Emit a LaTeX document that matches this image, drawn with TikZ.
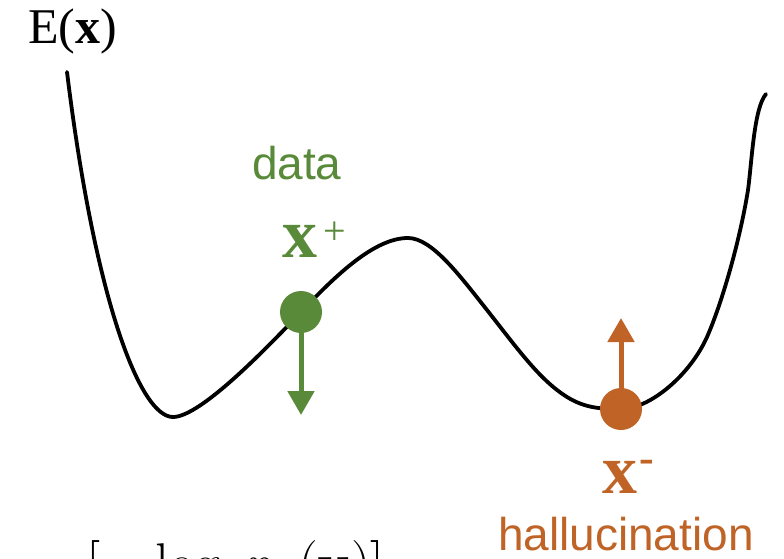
\documentclass[tikz,border=0pt]{standalone}
\usepackage{fontspec}
\setmainfont{Liberation Serif}
\newfontfamily\sansf{Liberation Sans}
\newfontfamily\lmr{Latin Modern Roman}
\usetikzlibrary{arrows.meta}
\definecolor{datagreen}{RGB}{88,138,58}
\definecolor{hallorange}{RGB}{192,99,38}
\tikzset{
  lbl/.style={inner sep=0pt, outer sep=0pt},
  losstext/.style={lbl, anchor=base west, font=\lmr\fontsize{56}{66}\selectfont},
  dotnode/.style={circle, inner sep=0pt, minimum size=42pt},
  forcearrow/.style={line width=5pt, -{Triangle[length=24pt,width=26pt]}},
}
\begin{document}
\begin{tikzpicture}[x=1pt,y=-1pt]
\useasboundingbox (0,0) rectangle (784,559);
\clip (0,0) rectangle (784,559);
\fill[white] (0,0) rectangle (784,559);
% energy curve
\draw[line width=3.8pt, line cap=round]
  (67,72) .. controls (95,300) and (140,417) .. (173,417)
  .. controls (200,417) and (265,350) .. (301,312)
  .. controls (337,274) and (375,238) .. (408,238)
  .. controls (432,238) and (460,276) .. (487,310)
  .. controls (520,352) and (540,380) .. (567,397)
  .. controls (585,408) and (600,409) .. (621,409)
  .. controls (650,409) and (690,375) .. (707,337)
  .. controls (722,303) and (740,240) .. (748,190)
  .. controls (752,160) and (754,108) .. (766,94);
% points
\node[dotnode, fill=datagreen] (xp) at (301,312) {};
\node[dotnode, fill=hallorange] (xm) at (621,409) {};
\coordinate (xptip) at (301,415);
\coordinate (xmtip) at (621,318);
\draw[forcearrow, datagreen] (xp.center) -- (xptip);
\draw[forcearrow, hallorange] (xm.center) -- (xmtip);
% labels
\node[lbl, anchor=base west, font=\fontsize{50}{60}\selectfont] (E) at (28,44) {E(\textbf{x})};
\node[lbl, anchor=base west, text=datagreen, font=\sansf\fontsize{46}{55}\selectfont] (data) at (252,179) {data};
\node[lbl, anchor=base west, text=datagreen, font=\fontsize{70}{80}\selectfont\bfseries] (xplus) at (282,257) {x};
\node[lbl, text=datagreen, font=\fontsize{40}{48}\selectfont] (plus) at (335,233) {+};
\node[lbl, anchor=base west, text=hallorange, font=\fontsize{70}{80}\selectfont\bfseries] (xminus) at (602,493) {x};
\node[lbl, text=hallorange, font=\fontsize{44}{52}\selectfont\bfseries] (minus) at (647,466) {-};
\node[lbl, anchor=base west, text=hallorange, font=\sansf\fontsize{46}{55}\selectfont] (hall) at (498,550) {hallucination};
% partly visible loss expression at the bottom edge
\node[losstext] (lossa) at (86,582) {[};
\node[losstext] (lossb) at (110,582) {−};
\node[losstext] (lossc) at (155,582) {log};
\node[losstext] (lossd) at (243,582) {\textit{p}$_\theta$};
\node[losstext] (losse) at (298,582) {(\textbf{x})]};
\end{tikzpicture}
\end{document}
